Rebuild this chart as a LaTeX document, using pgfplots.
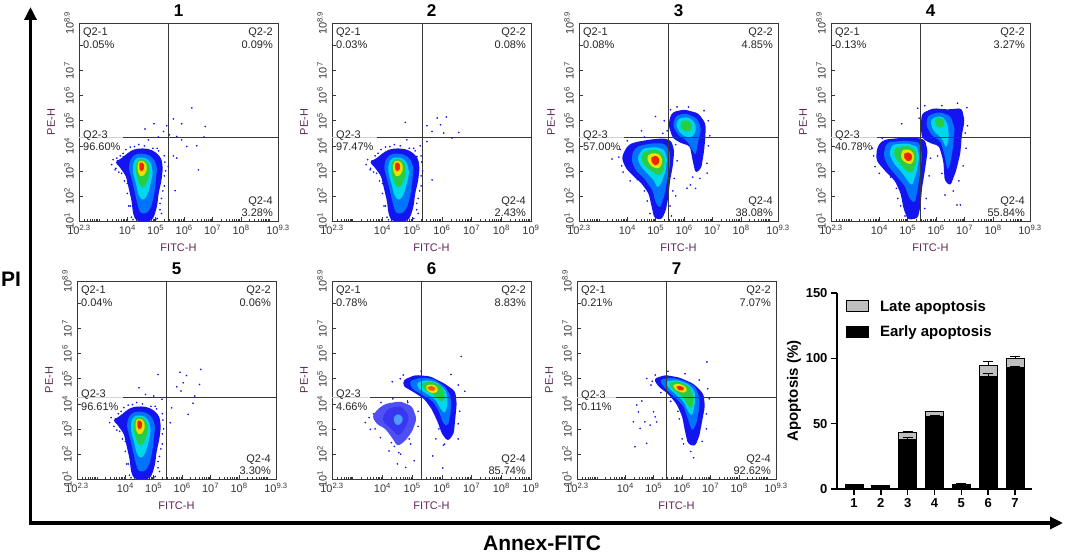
\documentclass[border=0pt]{standalone}
\usepackage{pgfplots}
\pgfplotsset{compat=1.18}
\usepackage{fontspec}
\setmainfont{Liberation Sans}
\usetikzlibrary{arrows.meta}

\definecolor{j1}{RGB}{20,20,240}
\definecolor{j2}{RGB}{0,115,255}
\definecolor{j3}{RGB}{0,215,235}
\definecolor{j4}{RGB}{40,205,70}
\definecolor{j5}{RGB}{240,225,0}
\definecolor{j6}{RGB}{235,40,0}
\definecolor{lab}{RGB}{95,40,85}
\definecolor{axc}{RGB}{55,55,55}

\tikzset{qtxt/.style={font=\fontsize{11}{12.5}\selectfont, text=black!85, align=left, inner sep=0pt}}

\pgfplotsset{
  flow/.style={
    scale only axis, width=199pt, height=198pt,
    xmin=2.3, xmax=9.3, ymin=1, ymax=8.9,
    xtick={2.3,4,5,6,7,8,9.3},
    xticklabels={10\textsuperscript{2.3},10\textsuperscript{4},10\textsuperscript{5},10\textsuperscript{6},10\textsuperscript{7},10\textsuperscript{8},10\textsuperscript{9.3}},
    minor xtick={2.477,2.602,2.699,2.778,2.845,2.903,2.954,3,3.301,3.477,3.602,3.699,3.778,3.845,3.903,3.954,4.301,4.477,4.602,4.699,4.778,4.845,4.903,4.954,5.301,5.477,5.602,5.699,5.778,5.845,5.903,5.954,6.301,6.477,6.602,6.699,6.778,6.845,6.903,6.954,7.301,7.477,7.602,7.699,7.778,7.845,7.903,7.954,8.301,8.477,8.602,8.699,8.778,8.845,8.903,8.954,9},
    ytick={1,2,3,4,5,6,7,8,8.9},
    yticklabels={10\textsuperscript{1},10\textsuperscript{2},10\textsuperscript{3},10\textsuperscript{4},10\textsuperscript{5},10\textsuperscript{6},10\textsuperscript{7},{},10\textsuperscript{8.9}},
    tick align=inside, tick pos=left,
    major tick length=3.5pt, minor tick length=2.2pt,
    every tick/.style={axc, line width=0.6pt},
    axis line style={axc, line width=0.8pt},
    ticklabel style={font=\fontsize{11}{11}\selectfont, text=axc},
    xticklabel style={inner sep=4pt},
    yticklabel style={rotate=90, anchor=south, inner sep=5pt},
    xlabel={FITC-H}, ylabel={PE-H},
    label style={font=\fontsize{11}{11}\selectfont, text=lab},
    xlabel style={yshift=-2pt},
    ylabel style={yshift=1pt},
    title style={font=\fontsize{17}{17}\selectfont\bfseries, yshift=-3pt},
  },
  flowb/.style={flow, xmax=9,
    xtick={2.3,4,5,6,7,8,9},
    xticklabels={10\textsuperscript{2.3},10\textsuperscript{4},10\textsuperscript{5},10\textsuperscript{6},10\textsuperscript{7},10\textsuperscript{8},10\textsuperscript{9}}},
  lay/.style={fill=#1, draw=none, rounded corners=3pt, forget plot},
  dots/.style={only marks, mark=*, mark size=0.6pt, color=j1, forget plot},
}

\newcommand{\quads}[7]{%
  \addplot[gray!35, line width=0.7pt, forget plot] coordinates {(2.3,#2) (#3,#2)};
  \addplot[axc, line width=0.8pt, forget plot] coordinates {(#3,#2) (9.3,#2)};
  \addplot[axc, line width=0.8pt, forget plot] coordinates {(#1,1) (#1,8.9)};
  \node[qtxt, anchor=north west] at (rel axis cs:0.02,0.975) {Q2-1\\#4\%};
  \node[qtxt, anchor=north east, align=right] at (rel axis cs:0.975,0.975) {Q2-2\\#5\%};
  \node[qtxt, anchor=west, xshift=4pt, yshift=-3pt] at (axis cs:2.3,#2) {Q2-3\\#6\%};
  \node[qtxt, anchor=south east, align=right] at (rel axis cs:0.975,0.02) {Q2-4\\#7\%};
}

\newcommand{\blobA}{%
  \addplot[lay=j1] coordinates {(4.45,3.9) (4.75,3.88) (5.0,3.75) (5.2,3.5) (5.25,3.1) (5.2,2.6) (5.1,2.1) (5.05,1.6) (4.95,1.2) (4.85,1.0) (4.3,1.0) (4.2,1.3) (4.15,1.8) (4.05,2.3) (3.95,2.8) (3.7,3.2) (3.55,3.35) (3.8,3.5) (4.0,3.7) (4.2,3.85)} -- cycle;
  \addplot[lay=j2] coordinates {(4.45,3.7) (4.75,3.65) (4.95,3.45) (5.05,3.1) (5.0,2.6) (4.95,2.1) (4.85,1.6) (4.7,1.3) (4.45,1.3) (4.35,1.7) (4.25,2.2) (4.15,2.7) (4.05,3.1) (4.1,3.45) (4.25,3.65)} -- cycle;
  \addplot[lay=j3] coordinates {(4.45,3.55) (4.7,3.5) (4.85,3.25) (4.9,2.9) (4.8,2.4) (4.7,2.0) (4.55,1.8) (4.4,2.0) (4.3,2.5) (4.2,2.9) (4.2,3.3) (4.3,3.5)} -- cycle;
  \addplot[lay=j4] coordinates {(4.45,3.5) (4.65,3.45) (4.78,3.2) (4.78,2.85) (4.68,2.5) (4.55,2.3) (4.42,2.45) (4.32,2.8) (4.28,3.15) (4.33,3.4)} -- cycle;
  \addplot[lay=j5] coordinates {(4.45,3.42) (4.62,3.38) (4.7,3.15) (4.65,2.9) (4.52,2.75) (4.4,2.85) (4.35,3.1) (4.37,3.32)} -- cycle;
  \addplot[lay=j6] coordinates {(4.47,3.35) (4.58,3.3) (4.6,3.15) (4.55,3.0) (4.46,2.98) (4.42,3.1) (4.42,3.27)} -- cycle;
  \addplot[dots] coordinates {(3.6,3.1) (3.7,2.95) (3.9,2.6) (4.0,2.1) (4.05,1.6) (4.15,1.15) (5.25,2.2) (5.3,2.8) (5.32,3.35) (5.15,1.7) (5.0,1.05) (3.75,3.6) (4.25,3.97) (4.9,3.9) (5.1,3.8) (3.5,3.45) (5.2,1.3) (3.45,3.25) (3.65,3.4) (3.85,3.7) (4.1,3.95) (4.6,4.0) (5.05,3.9) (5.3,3.6) (5.35,3.0) (5.3,2.4) (5.2,1.9) (5.15,1.45) (5.05,1.1) (4.1,1.6) (4.0,2.5) (3.8,2.9) (4.2,1.05) (4.4,4.05) (3.95,3.85)};
}

\begin{document}
\begin{tikzpicture}
\fill[white] (0pt,0pt) rectangle (1065pt,553pt);
\useasboundingbox (0pt,0pt) rectangle (1065pt,553pt);

% ---------- panel 1
\begin{axis}[flow, at={(79pt,332pt)}, anchor=south west, title={1}]
  \blobA
  \addplot[dots] coordinates {(6.27,5.51) (5.62,5.07) (5.91,4.88) (5.39,4.8) (4.94,4.88) (5.27,4.57) (4.62,4.67) (6.74,4.77) (5.48,4.44) (5.74,4.37) (5.91,4.24) (6.09,3.97) (6.44,4.0) (6.7,4.35) (5.62,3.6) (5.74,3.51) (5.44,3.17) (6.5,3.04) (5.68,2.21) (5.09,4.35) (4.74,4.24) (3.63,3.51) (3.57,3.04) (3.86,3.57)};
  \quads{5.43}{4.32}{3.85}{0.05}{0.09}{96.60}{3.28}
\end{axis}

% ---------- panel 2
\begin{axis}[flowb, at={(332pt,332pt)}, anchor=south west, title={2}]
  \blobA
  \addplot[dots] coordinates {(4.77,4.93) (5.5,4.8) (5.84,5.11) (6.15,5.15) (5.95,4.84) (5.67,4.57) (6.06,4.51) (6.34,4.31) (6.57,4.53) (5.5,4.17) (5.27,4.0) (5.67,2.64) (5.16,3.57) (3.58,3.04) (4.82,4.24)};
  \quads{5.34}{4.32}{3.81}{0.03}{0.08}{97.47}{2.43}
\end{axis}

% ---------- panel 3
\begin{axis}[flow, at={(579pt,332pt)}, anchor=south west, title={3}]
  \addplot[lay=j1] coordinates {(4.3,4.15) (4.8,4.25) (5.3,4.3) (5.55,4.2) (5.65,3.8) (5.6,3.2) (5.5,2.6) (5.45,2.0) (5.35,1.4) (5.2,1.05) (4.95,1.1) (4.85,1.6) (4.75,2.1) (4.5,2.5) (4.2,2.8) (3.95,3.1) (3.8,3.5) (3.9,3.8) (4.05,4.05)} -- cycle;
  \addplot[lay=j2] coordinates {(4.4,4.0) (4.9,4.1) (5.3,4.1) (5.5,3.8) (5.5,3.2) (5.4,2.6) (5.3,2.0) (5.15,1.5) (5.0,1.7) (4.9,2.2) (4.6,2.7) (4.3,3.0) (4.15,3.4) (4.2,3.8)} -- cycle;
  \addplot[lay=j3] coordinates {(4.55,3.9) (5.0,3.95) (5.3,3.85) (5.4,3.5) (5.35,3.0) (5.2,2.5) (5.05,2.3) (4.95,2.6) (4.7,2.9) (4.45,3.2) (4.35,3.55)} -- cycle;
  \addplot[lay=j4] coordinates {(4.65,3.8) (5.05,3.85) (5.3,3.6) (5.3,3.1) (5.15,2.8) (4.95,2.9) (4.7,3.1) (4.5,3.4) (4.5,3.65)} -- cycle;
  \addplot[lay=j5] coordinates {(4.8,3.7) (5.1,3.7) (5.25,3.45) (5.15,3.1) (4.95,3.1) (4.75,3.3) (4.68,3.55)} -- cycle;
  \addplot[lay=j6] coordinates {(4.88,3.6) (5.08,3.6) (5.15,3.4) (5.05,3.2) (4.9,3.25) (4.82,3.45)} -- cycle;
  \addplot[lay=j1] coordinates {(5.6,5.35) (6.0,5.45) (6.5,5.3) (6.75,4.9) (6.75,4.4) (6.7,3.8) (6.6,3.1) (6.4,2.9) (6.3,3.4) (6.2,4.0) (5.9,4.1) (5.6,4.3) (5.45,4.8) (5.5,5.15)} -- cycle;
  \addplot[lay=j2] coordinates {(5.7,5.2) (6.05,5.3) (6.45,5.1) (6.6,4.7) (6.5,4.2) (6.4,3.6) (6.3,3.8) (6.1,4.2) (5.8,4.4) (5.6,4.8)} -- cycle;
  \addplot[lay=j3] coordinates {(5.8,5.1) (6.15,5.15) (6.4,4.9) (6.4,4.5) (6.2,4.3) (5.9,4.45) (5.7,4.8)} -- cycle;
  \addplot[lay=j4] coordinates {(5.9,5.0) (6.2,5.0) (6.3,4.8) (6.2,4.55) (5.95,4.6) (5.85,4.8)} -- cycle;
  \addplot[dots] coordinates {(3.46,3.47) (6.22,2.44) (6.1,2.31) (4.99,5.17) (6.81,2.91) (5.52,5.44) (5.3,5.0) (5.4,4.6) (5.6,2.2) (5.7,2.0) (6.4,2.3) (6.8,3.3) (3.8,3.2) (4.5,4.6) (6.9,4.4) (5.25,4.5) (3.7,3.55) (3.85,2.95) (4.1,2.6) (4.6,2.2) (4.8,1.3) (5.5,1.6) (3.75,3.85) (4.0,4.2) (4.6,4.35) (5.7,4.05) (5.75,3.4) (5.65,2.7) (5.55,1.2) (5.05,0.95) (4.7,1.8) (4.35,2.65) (6.85,5.0) (6.7,5.4) (5.75,5.55) (6.15,5.55) (6.55,2.7) (6.3,2.75) (6.85,4.0)};
  \quads{5.43}{4.32}{3.87}{0.08}{4.85}{57.00}{38.08}
\end{axis}

% ---------- panel 4
\begin{axis}[flow, at={(831pt,332pt)}, anchor=south west, title={4}]
  \addplot[lay=j1] coordinates {(4.2,4.25) (4.8,4.32) (5.3,4.32) (5.6,4.25) (5.7,3.8) (5.6,3.0) (5.5,2.3) (5.45,1.6) (5.35,1.1) (5.0,1.05) (4.85,1.5) (4.75,2.1) (4.55,2.6) (4.2,3.0) (3.9,3.4) (3.9,3.8) (4.0,4.1)} -- cycle;
  \addplot[lay=j2] coordinates {(4.3,4.15) (4.9,4.2) (5.4,4.15) (5.5,3.7) (5.45,3.0) (5.35,2.3) (5.25,1.7) (5.05,1.9) (4.9,2.4) (4.6,2.8) (4.3,3.2) (4.15,3.6) (4.2,3.95)} -- cycle;
  \addplot[lay=j3] coordinates {(4.45,4.05) (5.0,4.1) (5.35,3.95) (5.4,3.5) (5.3,2.9) (5.15,2.4) (5.0,2.6) (4.75,3.0) (4.5,3.3) (4.35,3.7)} -- cycle;
  \addplot[lay=j4] coordinates {(4.6,3.95) (5.05,4.0) (5.3,3.8) (5.3,3.3) (5.15,2.9) (4.95,3.0) (4.75,3.25) (4.55,3.55) (4.5,3.8)} -- cycle;
  \addplot[lay=j5] coordinates {(4.8,3.85) (5.1,3.85) (5.25,3.6) (5.15,3.25) (4.95,3.3) (4.75,3.5)} -- cycle;
  \addplot[lay=j6] coordinates {(4.92,3.75) (5.12,3.72) (5.18,3.5) (5.05,3.35) (4.9,3.45) (4.85,3.62)} -- cycle;
  \addplot[lay=j1] coordinates {(5.5,5.3) (5.9,5.5) (6.4,5.45) (6.9,5.5) (7.0,5.0) (6.9,4.4) (6.85,3.7) (6.7,3.0) (6.5,2.4) (6.3,2.6) (6.25,3.4) (6.1,4.0) (5.8,4.1) (5.5,4.3) (5.45,4.8)} -- cycle;
  \addplot[lay=j2] coordinates {(5.7,5.2) (6.1,5.35) (6.5,5.2) (6.65,4.7) (6.6,4.0) (6.5,3.3) (6.4,3.0) (6.3,3.6) (6.15,4.2) (5.85,4.4) (5.65,4.8)} -- cycle;
  \addplot[lay=j3] coordinates {(5.85,5.1) (6.2,5.2) (6.4,4.9) (6.45,4.3) (6.35,3.9) (6.2,4.3) (5.9,4.6) (5.8,4.9)} -- cycle;
  \addplot[lay=j4] coordinates {(5.95,5.1) (6.2,5.15) (6.32,4.9) (6.2,4.7) (6.0,4.75)} -- cycle;
  \addplot[dots] coordinates {(7.08,5.52) (4.79,4.88) (3.85,3.17) (6.73,1.64) (6.85,1.64) (6.31,2.04) (5.14,1.31) (4.2,4.1) (7.02,4.51) (3.8,3.6) (4.0,2.9) (4.6,2.3) (4.75,1.6) (5.6,1.5) (7.05,3.9) (6.6,2.2) (5.35,5.5) (3.75,3.9) (4.1,4.3) (4.4,2.75) (4.65,1.9) (4.9,1.2) (5.55,1.0) (5.65,1.9) (5.75,2.8) (5.8,3.5) (5.4,5.1) (5.6,5.6) (6.2,5.6) (6.75,5.7) (7.1,4.8) (6.95,3.2) (6.8,2.6) (6.2,2.9) (6.05,3.6)};
  \quads{5.43}{4.32}{3.91}{0.13}{3.27}{40.78}{55.84}
\end{axis}

% ---------- panel 5
\begin{axis}[flow, at={(77pt,74pt)}, anchor=south west, title={5}]
  \blobA
  \addplot[dots] coordinates {(5.15,5.17) (5.92,5.26) (6.15,5.13) (6.04,4.84) (6.65,5.37) (5.81,4.68) (5.96,4.51) (6.61,4.77) (6.44,4.31) (6.38,4.02) (6.21,3.58) (5.63,3.84) (5.58,3.24) (5.29,4.18) (4.71,4.37) (4.48,4.64) (5.0,4.31)};
  \quads{5.46}{4.27}{3.93}{0.04}{0.06}{96.61}{3.30}
\end{axis}

% ---------- panel 6
\begin{axis}[flowb, at={(332pt,74pt)}, anchor=south west, title={6}]
  \addplot[lay=j1!75!white] coordinates {(4.1,4.0) (4.6,4.1) (5.0,3.9) (5.15,3.4) (5.0,2.9) (4.75,2.5) (4.5,2.3) (4.35,2.6) (4.1,3.0) (3.8,3.2) (3.65,3.5) (3.85,3.8)} -- cycle;
  \addplot[lay=j1!85!white] coordinates {(4.25,3.85) (4.65,3.9) (4.9,3.5) (4.8,3.1) (4.55,2.7) (4.3,3.0) (4.0,3.3) (4.05,3.6)} -- cycle;
  \addplot[lay=j2!70!white] coordinates {(4.45,3.6) (4.65,3.55) (4.7,3.3) (4.5,3.1) (4.35,3.35)} -- cycle;
  \addplot[lay=j1] coordinates {(4.7,4.95) (5.1,5.15) (5.6,5.1) (6.1,4.8) (6.45,4.5) (6.5,4.0) (6.45,3.4) (6.4,2.8) (6.2,2.5) (6.0,2.8) (5.85,3.3) (5.65,3.8) (5.4,4.2) (5.0,4.5) (4.7,4.7)} -- cycle;
  \addplot[lay=j2] coordinates {(4.9,4.9) (5.3,5.05) (5.7,5.0) (6.1,4.7) (6.3,4.3) (6.3,3.7) (6.2,3.1) (6.05,3.2) (5.9,3.7) (5.7,4.1) (5.35,4.35) (5.0,4.6)} -- cycle;
  \addplot[lay=j3] coordinates {(5.15,4.85) (5.5,4.95) (5.85,4.85) (6.15,4.5) (6.2,4.0) (6.1,3.6) (5.95,3.8) (5.8,4.15) (5.5,4.4) (5.2,4.6)} -- cycle;
  \addplot[lay=j4] coordinates {(5.3,4.8) (5.6,4.9) (5.95,4.75) (6.1,4.4) (6.05,4.05) (5.9,4.15) (5.7,4.4) (5.4,4.55)} -- cycle;
  \addplot[lay=j5] coordinates {(5.45,4.75) (5.75,4.78) (5.9,4.55) (5.75,4.4) (5.5,4.5)} -- cycle;
  \addplot[lay=j6!70!j5] coordinates {(5.55,4.72) (5.75,4.7) (5.8,4.55) (5.65,4.5) (5.5,4.58)} -- cycle;
  \addplot[dots] coordinates {(6.65,5.89) (6.31,5.17) (4.33,4.88) (4.84,4.11) (3.42,3.25) (3.59,2.98) (4.5,1.6) (4.78,1.46) (5.07,1.73) (4.61,1.99) (5.69,1.92) (6.03,1.44) (6.09,2.39) (6.77,4.5) (4.22,2.12) (3.93,2.65) (4.4,2.3) (4.9,2.6) (5.8,2.6) (6.55,3.2) (4.6,5.0) (3.7,3.6) (3.55,3.45) (3.75,3.0) (3.95,4.05) (4.35,4.2) (4.85,4.05) (5.2,3.7) (5.2,3.1) (4.95,2.4) (4.3,2.45) (4.55,2.05) (4.7,5.15) (5.3,5.3) (6.55,4.75) (6.6,3.7) (6.55,2.6) (6.05,2.35) (5.9,3.0)};
  \quads{5.32}{4.27}{3.59}{0.78}{8.83}{4.66}{85.74}
\end{axis}

% ---------- panel 7
\begin{axis}[flow, at={(577pt,74pt)}, anchor=south west, title={7}]
  \addplot[lay=j1] coordinates {(5.0,5.0) (5.4,5.15) (5.9,5.05) (6.4,4.8) (6.75,4.4) (6.8,3.9) (6.7,3.3) (6.6,2.7) (6.45,2.3) (6.2,2.4) (6.1,2.9) (6.0,3.5) (5.8,4.0) (5.5,4.4) (5.15,4.7)} -- cycle;
  \addplot[lay=j2] coordinates {(5.2,4.95) (5.6,5.05) (6.0,4.95) (6.45,4.7) (6.6,4.3) (6.6,3.8) (6.5,3.2) (6.35,2.9) (6.2,3.4) (6.05,3.9) (5.8,4.2) (5.5,4.5) (5.3,4.75)} -- cycle;
  \addplot[lay=j3] coordinates {(5.4,4.9) (5.8,4.95) (6.2,4.8) (6.45,4.5) (6.45,4.0) (6.35,3.5) (6.2,3.7) (6.05,4.1) (5.75,4.4) (5.5,4.65)} -- cycle;
  \addplot[lay=j4] coordinates {(5.55,4.85) (5.9,4.88) (6.25,4.7) (6.4,4.3) (6.35,3.8) (6.2,3.9) (6.05,4.25) (5.75,4.5) (5.55,4.7)} -- cycle;
  \addplot[lay=j5] coordinates {(5.7,4.8) (6.0,4.78) (6.2,4.6) (6.1,4.42) (5.85,4.5) (5.68,4.65)} -- cycle;
  \addplot[lay=j6] coordinates {(5.8,4.74) (6.0,4.7) (6.1,4.58) (5.95,4.5) (5.8,4.6)} -- cycle;
  \addplot[dots] coordinates {(4.4,3.95) (4.58,4.11) (4.46,3.68) (4.69,3.28) (4.28,3.28) (4.52,3.02) (4.34,2.29) (4.75,2.42) (5.05,3.48) (5.1,3.28) (4.87,3.15) (4.99,3.68) (4.75,5.01) (6.87,5.67) (6.4,1.85) (6.9,4.6) (6.85,3.6) (6.7,2.5) (5.9,3.4) (6.0,2.6) (4.9,4.75) (5.05,5.15) (5.5,5.3) (6.1,5.2) (6.6,4.95) (6.95,4.2) (6.85,3.0) (6.3,2.1) (6.05,2.4) (5.85,3.7) (5.6,4.1) (5.25,4.45) (4.95,4.9)};
  \quads{5.43}{4.24}{3.67}{0.21}{7.07}{0.11}{92.62}
\end{axis}

% ---------- bar chart
\begin{axis}[at={(837pt,64pt)}, anchor=south west, scale only axis, width=195pt, height=196pt,
  ybar stacked, bar width=18pt,
  xmin=0.366, xmax=7.634, ymin=0, ymax=150,
  axis x line*=bottom, axis y line*=left,
  axis line style={line width=2pt, black},
  xtick={1,2,3,4,5,6,7}, xticklabels={1,2,3,4,5,6,7},
  ytick={0,50,100,150}, yticklabels={0,50,100,150},
  tick align=outside, major tick length=6pt,
  every tick/.style={black, line width=1.6pt},
  ticklabel style={font=\fontsize{13}{13}\selectfont\bfseries},
  ylabel={Apoptosis (\%)},
  ylabel style={font=\fontsize{15}{15}\selectfont\bfseries, yshift=-2pt},
  legend style={at={(0.03,0.985)}, anchor=north west, draw=none, fill=none,
    font=\fontsize{15}{15}\selectfont\bfseries, row sep=9pt,
    /tikz/every odd column/.append style={column sep=9pt}},
  legend cell align=left, reverse legend,
]
\addplot[fill=black, draw=black, line width=1pt,
  legend image code/.code={\draw[fill=black, draw=black, line width=1pt] (0pt,-5.5pt) rectangle (22pt,5.5pt);},
  error bars/.cd, y dir=plus, y explicit,
  error bar style={line width=1pt, black},
  error mark options={rotate=90, mark size=5pt, line width=1pt, black}]
  coordinates {(1,3.28) +- (0,0.3) (2,2.43) +- (0,0.3) (3,38.08) +- (0,1.5) (4,55.84) +- (0,0.5) (5,3.30) +- (0,0.5) (6,85.74) +- (0,3.0) (7,92.62) +- (0,1.5)};
\addlegendentry{Early apoptosis}
\addplot[fill=gray!50, draw=black, line width=1pt,
  legend image code/.code={\draw[fill=gray!50, draw=black, line width=1pt] (0pt,-5.5pt) rectangle (22pt,5.5pt);},
  error bars/.cd, y dir=plus, y explicit,
  error bar style={line width=1pt, black},
  error mark options={rotate=90, mark size=5pt, line width=1pt, black}]
  coordinates {(1,0.09) +- (0,0.3) (2,0.08) +- (0,0.3) (3,4.85) +- (0,1.0) (4,3.27) +- (0,0.5) (5,0.06) +- (0,1.0) (6,8.83) +- (0,3.0) (7,7.07) +- (0,1.5)};
\addlegendentry{Late apoptosis}
\end{axis}

% ---------- outer arrows and labels
\draw[line width=3.6pt, {Triangle[length=13pt,width=12pt]}-{Triangle[length=13pt,width=12pt]}]
  (30.5pt,546pt) -- (30.5pt,30pt) -- (1063pt,30pt);
\node[font=\fontsize{21}{21}\selectfont\bfseries] at (11pt,274pt) {PI};
\node[font=\fontsize{21}{21}\selectfont\bfseries] at (542pt,10pt) {Annex-FITC};
\end{tikzpicture}
\end{document}
